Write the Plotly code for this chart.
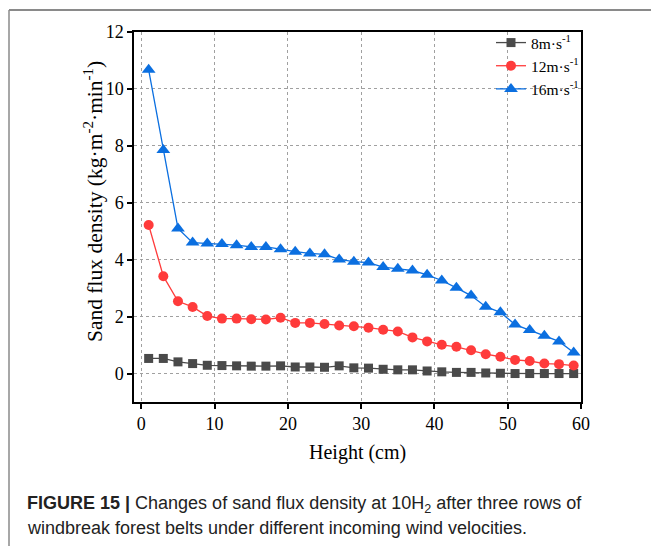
import plotly.graph_objects as go

heights = [1, 3, 5, 7, 9, 11, 13, 15, 17, 19, 21, 23, 25, 27, 29,
           31, 33, 35, 37, 39, 41, 43, 45, 47, 49, 51, 53, 55, 57, 59]

flux_8 = [0.53, 0.53, 0.41, 0.35, 0.29, 0.28, 0.27, 0.26, 0.26, 0.27, 0.23, 0.23, 0.22, 0.27, 0.20,
          0.19, 0.15, 0.13, 0.13, 0.09, 0.06, 0.04, 0.04, 0.02, 0.01, 0.00, 0.00, 0.00, 0.00, 0.00]
flux_12 = [5.22, 3.42, 2.54, 2.34, 2.02, 1.93, 1.93, 1.91, 1.90, 1.96, 1.78, 1.78, 1.74, 1.69, 1.66,
           1.61, 1.54, 1.48, 1.27, 1.13, 1.01, 0.94, 0.82, 0.68, 0.59, 0.48, 0.44, 0.35, 0.33, 0.28]
flux_16 = [10.67, 7.85, 5.10, 4.60, 4.57, 4.55, 4.51, 4.45, 4.45, 4.37, 4.28, 4.22, 4.19, 4.01, 3.93,
           3.90, 3.74, 3.68, 3.62, 3.47, 3.27, 3.01, 2.74, 2.35, 2.15, 1.72, 1.53, 1.33, 1.13, 0.74]

series_names = ["8m·s<sup>-1</sup>", "12m·s<sup>-1</sup>", "16m·s<sup>-1</sup>"]
series_colors = ["#4a4a4a", "#ff3b3b", "#0b6fe0"]
series_symbols = ["square", "circle", "triangle-up"]
series_sizes = [9, 10, 12]

x_ticks = [0, 10, 20, 30, 40, 50, 60]
y_ticks = [0, 2, 4, 6, 8, 10, 12]

W, H = 651, 546
L, R, T, B = 134, 70, 32, 144
pw, ph = W - L - R, H - T - B


def px(x):
    return (x - L) / pw


def py(y):
    return (H - B - y) / ph


fig = go.Figure()
for vals, name, col, sym, sz in zip([flux_8, flux_12, flux_16], series_names,
                                    series_colors, series_symbols, series_sizes):
    fig.add_trace(go.Scatter(
        x=heights, y=vals, name=name, mode="lines+markers",
        line=dict(color=col, width=1.3),
        marker=dict(symbol=sym, size=sz, color=col, line=dict(width=0)),
    ))

serif = "Liberation Serif"
axis_common = dict(
    showline=True, linecolor="black", linewidth=1.5, mirror=True,
    ticks="outside", ticklen=5, tickwidth=1.5, tickcolor="black",
    showgrid=True, gridcolor="#a0a0a0", griddash="dot", gridwidth=1,
    zeroline=False, tickfont=dict(family=serif, size=18, color="black"),
)

fig.update_xaxes(range=[-1, 60], tickvals=x_ticks, **axis_common)
fig.update_yaxes(range=[-1, 12], tickvals=y_ticks, **axis_common)

fig.update_layout(
    width=W, height=H,
    margin=dict(l=L, r=R, t=T, b=B, pad=0),
    plot_bgcolor="white", paper_bgcolor="white",
    showlegend=True,
    legend=dict(x=1 + 3 / pw, y=1 + 6 / ph, xanchor="right", yanchor="top",
                bgcolor="rgba(0,0,0,0)", borderwidth=0,
                font=dict(family=serif, size=15.5, color="black"),
                tracegroupgap=0, itemwidth=30),
)

annotations = [
    dict(text="Height (cm)", xref="paper", yref="paper", x=0.5, y=py(452),
         xanchor="center", yanchor="middle", showarrow=False,
         font=dict(family=serif, size=20, color="black")),
    dict(text="Sand flux density (kg·m<sup>-2</sup>·min<sup>-1</sup>)", xref="paper", yref="paper",
         x=px(93), y=py(202), xanchor="center", yanchor="middle", textangle=-90,
         showarrow=False, font=dict(family=serif, size=21.5, color="black")),
    dict(text="<b>FIGURE 15 |</b> Changes of sand flux density at 10H<sub>2</sub> after three rows of",
         xref="paper", yref="paper", x=px(25), y=py(504), xanchor="left", yanchor="middle",
         showarrow=False, font=dict(family="Liberation Sans", size=18, color="#222")),
    dict(text="windbreak forest belts under different incoming wind velocities.",
         xref="paper", yref="paper", x=px(25), y=py(528), xanchor="left", yanchor="middle",
         showarrow=False, font=dict(family="Liberation Sans", size=18, color="#222")),
]
fig.update_layout(annotations=annotations)

fig.update_layout(shapes=[
    dict(type="line", xref="paper", yref="paper", x0=px(9), x1=px(651), y0=py(10), y1=py(10),
         line=dict(color="#8a8a8a", width=2)),
    dict(type="line", xref="paper", yref="paper", x0=px(9), x1=px(9), y0=py(10), y1=py(546),
         line=dict(color="#8a8a8a", width=1.5)),
])

fig.write_html("out.html")
